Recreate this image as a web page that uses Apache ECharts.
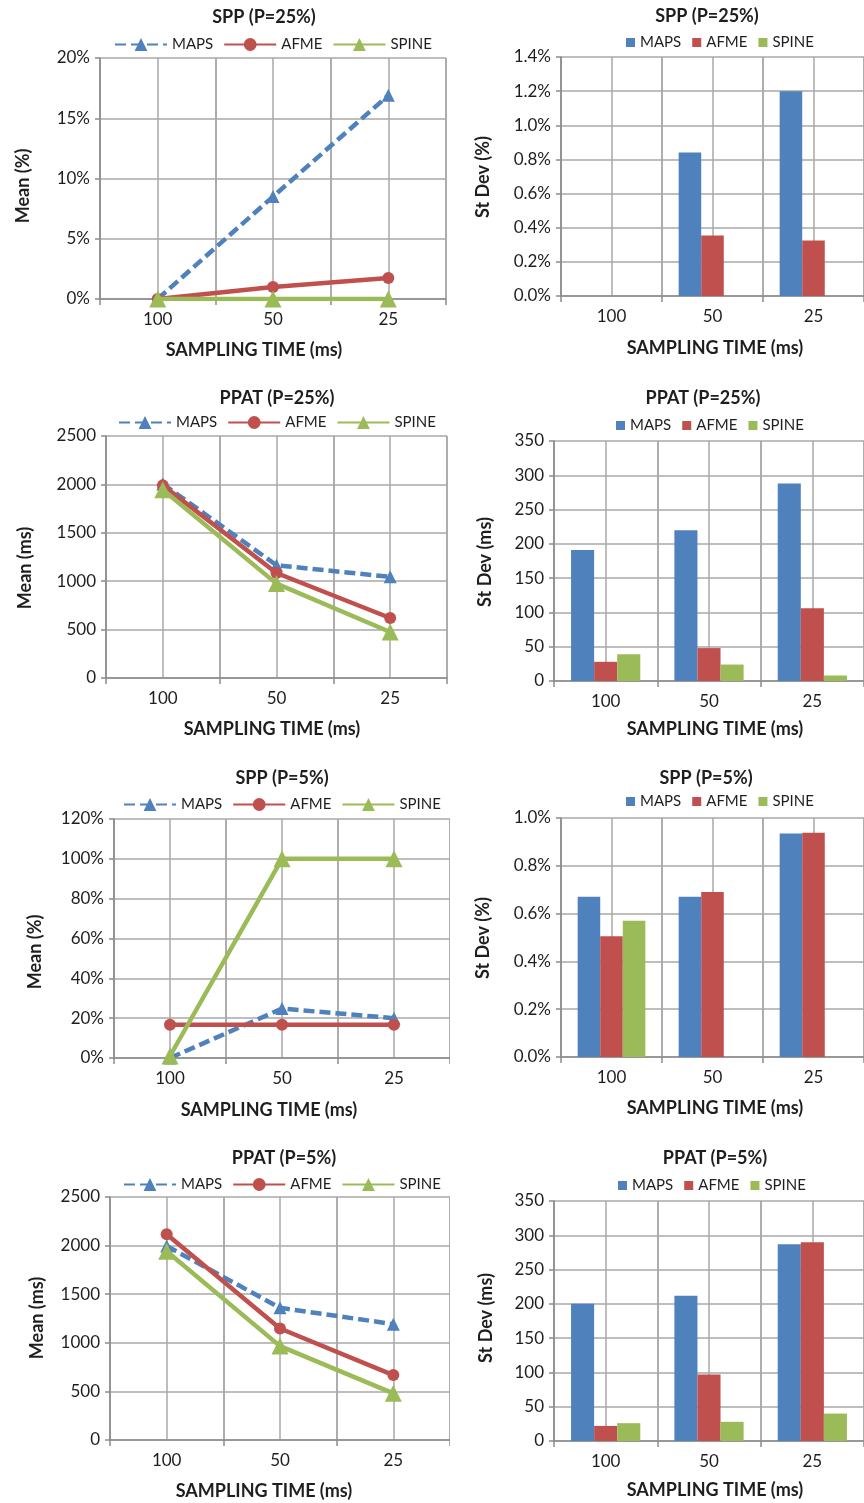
<!DOCTYPE html>
<html><head><meta charset="utf-8">
<script src="https://cdn.jsdelivr.net/npm/echarts@6/dist/echarts.min.js"></script>
<style>
html,body{margin:0;padding:0;background:#fff;overflow:hidden;width:864px;height:1503px;}
.c{position:absolute;overflow:hidden;}
</style></head><body>
<div id="c1" class="c" style="left:0;top:0;width:450px;height:380px"></div>
<div id="c2" class="c" style="left:450px;top:0;width:414px;height:380px"></div>
<div id="c3" class="c" style="left:0;top:380px;width:450px;height:380px"></div>
<div id="c4" class="c" style="left:450px;top:380px;width:414px;height:380px"></div>
<div id="c5" class="c" style="left:0;top:760px;width:450px;height:380px"></div>
<div id="c6" class="c" style="left:450px;top:760px;width:414px;height:380px"></div>
<div id="c7" class="c" style="left:0;top:1140px;width:450px;height:363px"></div>
<div id="c8" class="c" style="left:450px;top:1140px;width:414px;height:363px"></div>
<script>
// ---------- DATA ----------
const categories = ['100', '50', '25'];
const seriesNames = ['MAPS', 'AFME', 'SPINE'];

// SPP (P=25%) mean, %
const sppMean25MAPS = [0, 8.5, 16.9];
const sppMean25AFME = [0, 1.0, 1.75];
const sppMean25SPINE = [0, 0, 0];
const sppMean25Ticks = [0, 20, 5];

// SPP (P=25%) st dev, %
const sppStd25MAPS = [0, 0.84, 1.20];
const sppStd25AFME = [0, 0.355, 0.325];
const sppStd25SPINE = [0, 0, 0];
const sppStd25Ticks = [0, 1.4, 0.2];

// PPAT (P=25%) mean, ms
const ppatMean25MAPS = [2005, 1165, 1045];
const ppatMean25AFME = [1990, 1085, 620];
const ppatMean25SPINE = [1945, 975, 475];
const ppatMean25Ticks = [0, 2500, 500];

// PPAT (P=25%) st dev, ms
const ppatStd25MAPS = [191, 220, 288];
const ppatStd25AFME = [28, 48, 106];
const ppatStd25SPINE = [39, 24, 8];
const ppatStd25Ticks = [0, 350, 50];

// SPP (P=5%) mean, %
const sppMean5MAPS = [0, 24.8, 20];
const sppMean5AFME = [16.7, 16.7, 16.7];
const sppMean5SPINE = [1, 100, 100];
const sppMean5Ticks = [0, 120, 20];

// SPP (P=5%) st dev, %
const sppStd5MAPS = [0.67, 0.67, 0.935];
const sppStd5AFME = [0.505, 0.69, 0.938];
const sppStd5SPINE = [0.57, 0, 0];
const sppStd5Ticks = [0, 1.0, 0.2];

// PPAT (P=5%) mean, ms
const ppatMean5MAPS = [1995, 1360, 1192];
const ppatMean5AFME = [2117, 1147, 668];
const ppatMean5SPINE = [1942, 966, 480];
const ppatMean5Ticks = [0, 2500, 500];

// PPAT (P=5%) st dev, ms
const ppatStd5MAPS = [200, 212, 287];
const ppatStd5AFME = [22, 97, 290];
const ppatStd5SPINE = [26, 28, 40];
const ppatStd5Ticks = [0, 350, 50];

// ---------- STYLE ----------
const FONT = 'Lato, "Open Sans", sans-serif';
const COLORS = ['#4F81BD', '#C0504D', '#9BBB59'];
const GRID = '#a8a8a8';
const AXIS = '#8c8c8c';
const TXT = '#1e1e1e';

function pctFmt(dec) { return v => v.toFixed(dec) + '%'; }
function plainFmt(v) { return String(v); }

function makeOption(c) {
  const isLine = c.kind === 'line';
  let series;
  if (isLine) {
    const syms = ['triangle', 'circle', 'triangle'];
    const sizes = [13, 12, 17];
    series = c.data.map((d, i) => ({
      name: seriesNames[i], type: 'line', data: d,
      symbol: syms[i], symbolSize: sizes[i], showSymbol: true,
      lineStyle: { color: COLORS[i], width: 4.5, type: i === 0 ? [11, 5] : 'solid' },
      itemStyle: { color: COLORS[i] },
      z: 3 + i
    }));
  } else {
    series = c.data.map((d, i) => ({
      name: seriesNames[i], type: 'bar', data: d,
      barGap: '0%', barCategoryGap: '33%',
      itemStyle: { color: COLORS[i] }
    }));
  }
  const legend = isLine ? {
    left: c.legend[0], top: c.legend[1] - 1, padding: 0,
    itemWidth: 52, itemHeight: 16, itemGap: 10,
    textStyle: { fontFamily: FONT, fontSize: 15, color: TXT },
    data: seriesNames
  } : {
    left: c.legend[0], top: c.legend[1], padding: 0,
    itemWidth: 9, itemHeight: 9, itemGap: 11, icon: 'rect',
    textStyle: { fontFamily: FONT, fontSize: 15, color: TXT },
    data: seriesNames
  };
  const bold = 'bold 18px ' + FONT;
  return {
    animation: false,
    textStyle: { fontFamily: FONT },
    grid: { left: c.grid[0], top: c.grid[1], width: c.grid[2], height: c.grid[3] },
    legend: legend,
    xAxis: [{
      type: 'category', data: categories, boundaryGap: true,
      axisLine: { lineStyle: { color: AXIS, width: 1.5 } },
      axisTick: { show: true, length: 6, lineStyle: { color: AXIS, width: 1.5 } },
      axisLabel: { color: TXT, fontSize: 17, fontFamily: FONT, margin: 12 },
      splitLine: { show: true, lineStyle: { color: GRID, width: 1.5 } }
    }, {
      type: 'category', position: 'top', data: ['', '', '', '', '', '', ''], boundaryGap: false,
      axisLine: { show: false }, axisTick: { show: false }, axisLabel: { show: false, interval: 0 },
      splitLine: { show: true, interval: 0, lineStyle: { color: GRID, width: 1.5 } }
    }],
    yAxis: {
      type: 'value', min: c.ticks[0], max: c.ticks[1], interval: c.ticks[2],
      axisLine: { show: true, lineStyle: { color: AXIS, width: 1.5 } },
      axisTick: { show: true, length: 5, lineStyle: { color: AXIS, width: 1.5 } },
      axisLabel: { color: TXT, fontSize: 17, fontFamily: FONT, margin: 10, formatter: c.fmt },
      splitLine: { show: true, lineStyle: { color: GRID, width: 1.5 } }
    },
    graphic: [
      { type: 'text', x: c.title[1], y: c.title[2], style: { text: c.title[0], font: bold, fill: TXT, align: 'center', verticalAlign: 'middle' } },
      { type: 'text', x: c.xname[0], y: c.xname[1], style: { text: 'SAMPLING TIME (ms)', font: bold, fill: TXT, align: 'center', verticalAlign: 'middle' } },
      { type: 'text', x: c.yname[1], y: c.yname[2], rotation: Math.PI / 2, style: { text: c.yname[0], font: bold, fill: TXT, align: 'center', verticalAlign: 'middle' } }
    ],
    series: series
  };
}

const charts = [
  { id: 'c1', kind: 'line', data: [sppMean25MAPS, sppMean25AFME, sppMean25SPINE], ticks: sppMean25Ticks, fmt: pctFmt(0),
    grid: [100, 58, 346, 241], legend: [114, 38], title: ['SPP (P=25%)', 264, 17], xname: [254, 350], yname: ['Mean (%)', 23, 186] },
  { id: 'c2', kind: 'bar', data: [sppStd25MAPS, sppStd25AFME, sppStd25SPINE], ticks: sppStd25Ticks, fmt: pctFmt(1),
    grid: [111, 57, 312, 239], legend: [176, 35], title: ['SPP (P=25%)', 257, 16], xname: [265, 348], yname: ['St Dev (%)', 33, 177] },
  { id: 'c3', kind: 'line', data: [ppatMean25MAPS, ppatMean25AFME, ppatMean25SPINE], ticks: ppatMean25Ticks, fmt: plainFmt,
    grid: [106, 56, 341, 242], legend: [118, 36], title: ['PPAT (P=25%)', 277, 18], xname: [272, 349], yname: ['Mean (ms)', 25, 188] },
  { id: 'c4', kind: 'bar', data: [ppatStd25MAPS, ppatStd25AFME, ppatStd25SPINE], ticks: ppatStd25Ticks, fmt: plainFmt,
    grid: [104, 61, 321, 240], legend: [166, 38], title: ['PPAT (P=25%)', 253, 18], xname: [265, 349], yname: ['St Dev (ms)', 35, 182] },
  { id: 'c5', kind: 'line', data: [sppMean5MAPS, sppMean5AFME, sppMean5SPINE], ticks: sppMean5Ticks, fmt: '{value}%',
    grid: [114, 59, 338, 239], legend: [123, 38], title: ['SPP (P=5%)', 282, 18], xname: [269, 350], yname: ['Mean (%)', 35, 192] },
  { id: 'c6', kind: 'bar', data: [sppStd5MAPS, sppStd5AFME, sppStd5SPINE], ticks: sppStd5Ticks, fmt: pctFmt(1),
    grid: [111, 58, 312, 239], legend: [176, 34], title: ['SPP (P=5%)', 256, 18], xname: [265, 348], yname: ['St Dev (%)', 33, 178] },
  { id: 'c7', kind: 'line', data: [ppatMean5MAPS, ppatMean5AFME, ppatMean5SPINE], ticks: ppatMean5Ticks, fmt: plainFmt,
    grid: [110, 57, 343, 243], legend: [123, 38], title: ['PPAT (P=5%)', 284, 18], xname: [264, 351], yname: ['Mean (ms)', 37, 178] },
  { id: 'c8', kind: 'bar', data: [ppatStd5MAPS, ppatStd5AFME, ppatStd5SPINE], ticks: ppatStd5Ticks, fmt: plainFmt,
    grid: [104, 61, 321, 240], legend: [168, 38], title: ['PPAT (P=5%)', 265, 18], xname: [265, 350], yname: ['St Dev (ms)', 36, 178] }
];

charts.forEach(c => {
  const ch = echarts.init(document.getElementById(c.id), null, { renderer: 'canvas' });
  ch.setOption(makeOption(c));
});
</script>
</body></html>
